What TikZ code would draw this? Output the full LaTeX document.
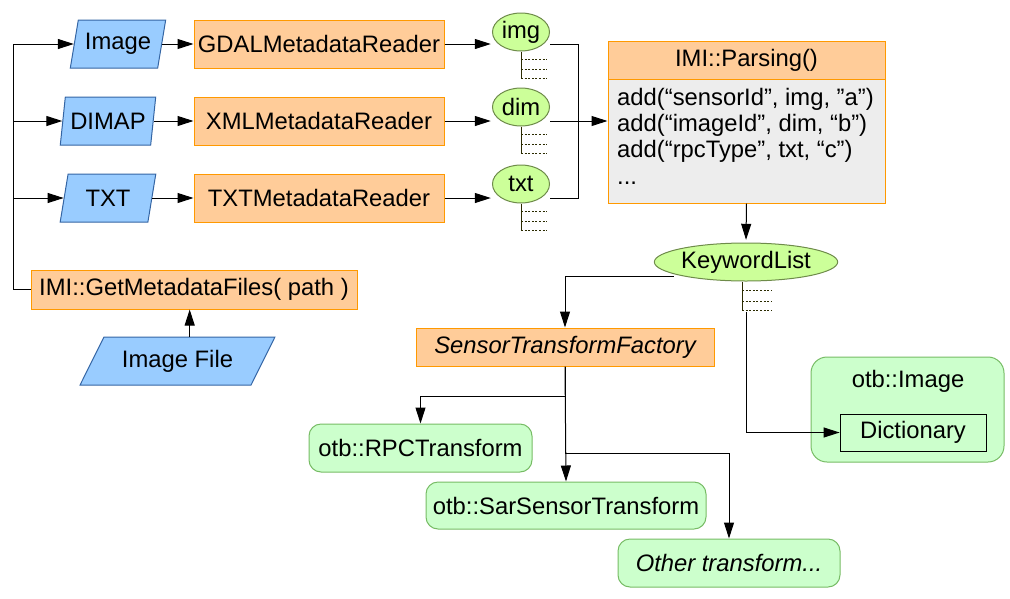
\documentclass[tikz,border=0pt]{standalone}
\usepackage{fontspec}
\setmainfont{Liberation Sans}
\usetikzlibrary{arrows.meta,shapes.geometric,calc}
\definecolor{ofill}{HTML}{FFCC99}
\definecolor{odraw}{HTML}{FF9900}
\definecolor{bfill}{HTML}{99CCFF}
\definecolor{bdraw}{HTML}{3465A4}
\definecolor{efill}{HTML}{CCFF99}
\definecolor{edraw}{HTML}{6E8B4A}
\definecolor{gfill}{HTML}{CCFFCC}
\definecolor{gdraw}{HTML}{77BC65}
\definecolor{treec}{HTML}{2B2B00}
\begin{document}
\begin{tikzpicture}[x=1pt,y=-1pt,
  every node/.style={font=\fontsize{23.8}{28}\selectfont, inner sep=0pt},
  arr/.style={-{Triangle[length=16pt,width=10pt]}, line width=1pt},
  conn/.style={line width=1pt},
  orbox/.style={rectangle, fill=ofill, draw=odraw, line width=1pt},
  para/.style={trapezium, trapezium stretches=true, fill=bfill, draw=bdraw, line width=1pt, minimum height=48pt},
  kell/.style={ellipse, fill=efill, draw=edraw, line width=1pt},
  grp/.style={rectangle, draw=none},
  gbox/.style={rectangle, rounded corners=12pt, fill=gfill, draw=gdraw, line width=1pt},
  treeline/.style={draw=treec, line width=1pt},
  treedot/.style={draw=treec, line width=1pt, dash pattern=on 2pt off 1.6pt}
]
\useasboundingbox (0,0) rectangle (1010,598);

% input parallelograms
\node[para, trapezium left angle=72.6, trapezium right angle=107.4, minimum width=96pt] (imgin) at (118,44) {Image};
\node[para, trapezium left angle=74.8, trapezium right angle=105.2, minimum width=96pt] (dimapin) at (108,121) {DIMAP};
\node[para, trapezium left angle=74.8, trapezium right angle=105.2, minimum width=96pt] (txtin) at (108,198) {TXT};
\node[para, trapezium left angle=50.9, trapezium right angle=129.1, minimum width=195pt] (imgfile) at (177.5,361) {Image File};

% readers
\node[orbox, minimum width=250pt, minimum height=48pt] (gdal) at (319,44) {GDALMetadataReader};
\node[orbox, minimum width=250pt, minimum height=48pt] (xml) at (319,121) {XMLMetadataReader};
\node[orbox, minimum width=250pt, minimum height=48pt] (txtr) at (319,198) {TXTMetadataReader};
\node[orbox, minimum width=326pt, minimum height=39pt] (getmeta) at (194,289.5) {IMI::GetMetadataFiles( path )};

% keyword groups
\node[grp, minimum width=59pt, minimum height=66pt] (imggrp) at (520.5,45) {};
\node[kell, minimum width=57pt, minimum height=38pt] (imgk) at (521,32) {img};
\node[grp, minimum width=59pt, minimum height=67pt] (dimgrp) at (520.5,121.5) {};
\node[kell, minimum width=57pt, minimum height=38pt] (dimk) at (521,107) {dim};
\node[grp, minimum width=59pt, minimum height=67pt] (txtgrp) at (520.5,198.5) {};
\node[kell, minimum width=57pt, minimum height=38pt] (txtk) at (521,184) {txt};

\foreach \k in {imgk,dimk,txtk}{
  \draw[treeline] (\k.south) -- ++(0,27);
  \foreach \d in {8,18,27}{
    \draw[treedot] ($(\k.south)+(0,\d)$) -- ++(26,0);
  }
}

% parsing box
\node[rectangle, fill=black!7, draw=odraw, line width=1pt, minimum width=277pt, minimum height=162pt] (parsing) at (746.5,122) {};
\node[orbox, minimum width=277pt, minimum height=38pt] (parsehead) at (746.5,60) {IMI::Parsing()};
\node[anchor=base west] (pl1) at (617,105) {add(“sensorId”, img, ”a”)};
\node[anchor=base west] (pl2) at (617,131) {add(“imageId”, dim, “b”)};
\node[anchor=base west] (pl3) at (617,157) {add(“rpcType”, txt, “c”)};
\node[anchor=base west] (pl4) at (617,184) {...};

% keyword list
\node[grp, minimum width=144pt, minimum height=72pt] (kwgrp) at (746,276) {};
\node[kell, minimum width=144pt, minimum height=38pt] (kw) at (746,262) {KeywordList};
\draw[treeline] ($(kw.south)+(-4,0)$) -- ++(0,29);
\foreach \d in {9,20,29}{
  \draw[treedot] ($(kw.south)+(-4,\d)$) -- ++(29,0);
}

% factory and transforms
\node[orbox, minimum width=298pt, minimum height=38pt, font=\fontsize{23.8}{28}\selectfont\itshape] (stf) at (565,347) {SensorTransformFactory};
\node[gbox, minimum width=223pt, minimum height=48pt] (rpc) at (420.5,448) {otb::RPCTransform};
\node[gbox, minimum width=280pt, minimum height=47pt] (sar) at (566,505.5) {otb::SarSensorTransform};
\node[gbox, minimum width=222pt, minimum height=48pt, font=\fontsize{23.8}{28}\selectfont\itshape] (other) at (729,563) {Other transform...};

% otb image
\node[gbox, rounded corners=16pt, minimum width=193pt, minimum height=105pt] (otbimg) at (907.5,409.5) {};
\node (otblabel) at (908,381) {otb::Image};
\node[rectangle, fill=gfill, draw=black, line width=0.8pt, minimum width=146pt, minimum height=37pt] (dict) at (913,432.5) {Dictionary};

% connectors
\coordinate (spine) at (13,0);
\draw[arr] (getmeta.west) -- (spine |- getmeta.west) |- (imgin.left side);
\draw[arr] (spine |- dimapin.left side) -- (dimapin.left side);
\draw[arr] (spine |- txtin.left side) -- (txtin.left side);
\draw[arr] (imgfile.top side) -- (imgfile.top side |- getmeta.south);

\draw[arr] (imgin.right side) -- (gdal.west);
\draw[arr] (dimapin.right side) -- (xml.west);
\draw[arr] (txtin.right side) -- (txtr.west);

\draw[arr] (gdal.east) -- (gdal.east -| imggrp.west);
\draw[arr] (xml.east) -- (xml.east -| dimgrp.west);
\draw[arr] (txtr.east) -- (txtr.east -| txtgrp.west);

\draw[conn] (imggrp.east |- gdal.east) -- ++(28,0) |- (txtgrp.east |- txtr.east);
\draw[arr] (dimgrp.east |- xml.east) -- (parsing.west |- xml.east);

\draw[arr] (parsing.south) -- (kwgrp.north);
\draw[arr] (kwgrp.west) -| (stf.north);
\draw[arr] (kwgrp.south) |- (dict.west);

\draw[arr] (stf.south) -- (sar.north);
\draw[arr] (stf.south) -- ++(0,30) -| (rpc.north);
\draw[arr] (stf.south) -- ++(0,87) -| (other.north);
\end{tikzpicture}
\end{document}
